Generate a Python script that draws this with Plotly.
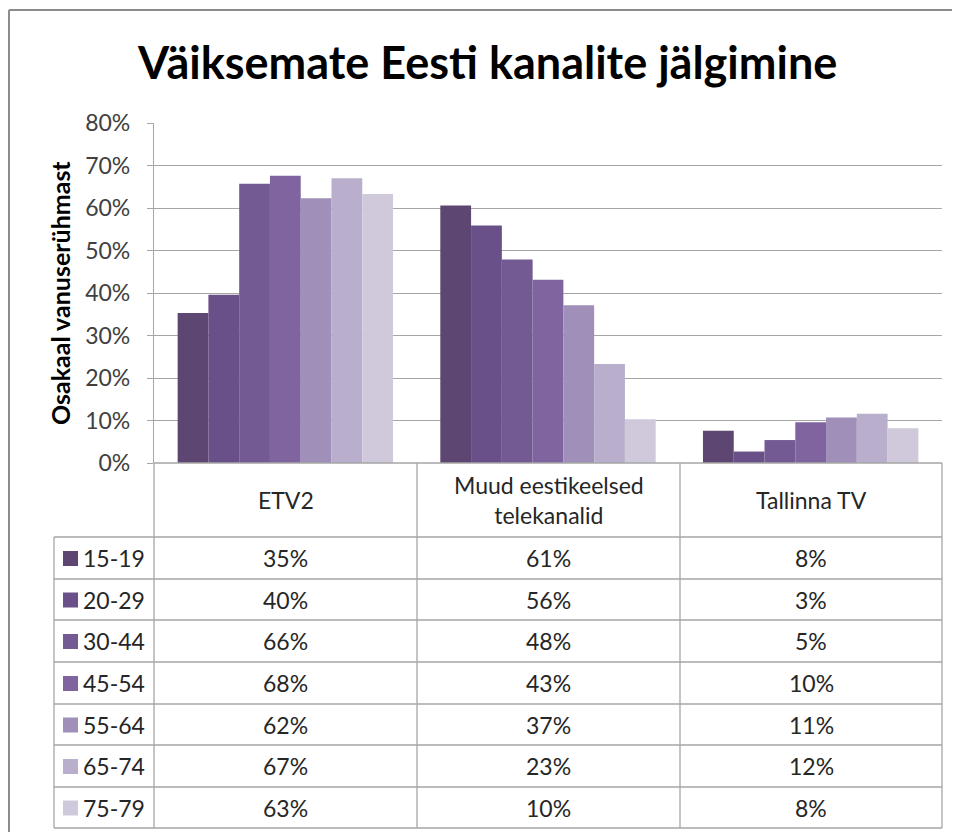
import plotly.graph_objects as go

categories = ["ETV2", "Muud eestikeelsed<br>telekanalid", "Tallinna TV"]
age_groups = ["15-19", "20-29", "30-44", "45-54", "55-64", "65-74", "75-79"]
etv2 = [35.3, 39.6, 65.7, 67.6, 62.3, 67.0, 63.3]
muud = [60.6, 55.9, 47.9, 43.1, 37.1, 23.3, 10.3]
tallinna = [7.6, 2.7, 5.4, 9.6, 10.7, 11.6, 8.2]
colors = ["#5D4672", "#6A5088", "#735A93", "#7F64A0", "#A08FB8", "#B9AECB", "#D0C9DC"]
title_text = "Väiksemate Eesti kanalite jälgimine"
y_title = "Osakaal vanuserühmast"

OFF = 8  # page body margin offset
W, H = 960 - OFF, 832 - OFF
L, R, T, B = 154 - OFF, 942 - OFF, 123 - OFF, 463 - OFF
FONT = "Lato"
GRID = "#A6A6A6"


def xp(px):
    # px given in reference (window) coordinates
    return (px - OFF - L) / (R - L)


def yp(py):
    return (B - (py - OFF)) / (B - T)


series = [list(v) for v in zip(etv2, muud, tallinna)]

fig = go.Figure()
for name, vals, col in zip(age_groups, series, colors):
    fig.add_trace(go.Bar(x=categories, y=vals, name=name, marker_color=col,
                         marker_line_width=0, hoverinfo="x+y+name"))

shapes = []
annotations = []

# outer frame
shapes.append(dict(type="line", xref="paper", yref="paper", x0=xp(9), x1=xp(9), y0=yp(840), y1=yp(10),
                   line=dict(color="#8C8C8C", width=2)))
shapes.append(dict(type="line", xref="paper", yref="paper", x0=xp(9), x1=xp(970), y0=yp(10), y1=yp(10),
                   line=dict(color="#8C8C8C", width=2)))

# table geometry
col_x = [154, 417, 680, 942]
row_y = [537, 579, 620, 662, 704, 745, 787, 828]
header_top = 463
legend_left = 54

lw = dict(color=GRID, width=1.3)
for y in row_y:
    shapes.append(dict(type="line", xref="paper", yref="paper", x0=xp(legend_left), x1=xp(942),
                       y0=yp(y), y1=yp(y), line=lw))
shapes.append(dict(type="line", xref="paper", yref="paper", x0=xp(154), x1=xp(942),
                   y0=yp(header_top), y1=yp(header_top), line=lw))
shapes.append(dict(type="line", xref="paper", yref="paper", x0=xp(legend_left), x1=xp(legend_left),
                   y0=yp(row_y[0]), y1=yp(row_y[-1]), line=lw))
for x in col_x:
    shapes.append(dict(type="line", xref="paper", yref="paper", x0=xp(x), x1=xp(x),
                       y0=yp(header_top), y1=yp(row_y[-1]), line=lw))

TXT = dict(family=FONT, size=23, color="#262626")
# header labels
for i, cat in enumerate(categories):
    cx = (col_x[i] + col_x[i + 1]) / 2
    annotations.append(dict(x=xp(cx), y=yp((header_top + row_y[0]) / 2), xref="paper", yref="paper",
                            text=cat, showarrow=False, font=TXT, xanchor="center", yanchor="middle"))

# rows
for r, (name, vals, col) in enumerate(zip(age_groups, series, colors)):
    cy = (row_y[r] + row_y[r + 1]) / 2
    shapes.append(dict(type="rect", xref="paper", yref="paper", x0=xp(63), x1=xp(78),
                       y0=yp(cy - 7), y1=yp(cy + 8), fillcolor=col, line=dict(width=0)))
    annotations.append(dict(x=xp(81), y=yp(cy), xref="paper", yref="paper", text=name,
                            showarrow=False, font=TXT, xanchor="left", yanchor="middle"))
    for i, v in enumerate(vals):
        cx = (col_x[i] + col_x[i + 1]) / 2
        annotations.append(dict(x=xp(cx), y=yp(cy), xref="paper", yref="paper",
                                text=f"{round(v)}%", showarrow=False, font=TXT,
                                xanchor="center", yanchor="middle"))

# title
annotations.append(dict(x=xp(487), y=yp(62), xref="paper", yref="paper", text=f"<b>{title_text}</b>",
                        showarrow=False, font=dict(family=FONT, size=45, color="#000000"),
                        xanchor="center", yanchor="middle"))
# y-axis title
annotations.append(dict(x=xp(60), y=yp(293), xref="paper", yref="paper", text=f"<b>{y_title}</b>",
                        showarrow=False, textangle=-90, font=dict(family=FONT, size=25, color="#000000"),
                        xanchor="center", yanchor="middle"))

fig.update_layout(
    width=W, height=H, autosize=False,
    margin=dict(l=L, r=W - R, t=T, b=H - B, pad=0),
    paper_bgcolor="white", plot_bgcolor="white",
    barmode="group", bargap=0.18, bargroupgap=0,
    showlegend=False,
    shapes=shapes, annotations=annotations,
    xaxis=dict(showticklabels=False, showgrid=False, zeroline=False, showline=False, ticks=""),
    yaxis=dict(range=[0, 80], dtick=10, ticksuffix="%", showgrid=True, gridcolor=GRID, gridwidth=1.3,
               zeroline=False, showline=True, linecolor=GRID, linewidth=1.3,
               ticks="outside", ticklen=6, tickcolor=GRID, ticklabelstandoff=12,
               tickfont=dict(family=FONT, size=23, color="#404040")),
    font=dict(family=FONT),
)

fig.write_html("out.html")
